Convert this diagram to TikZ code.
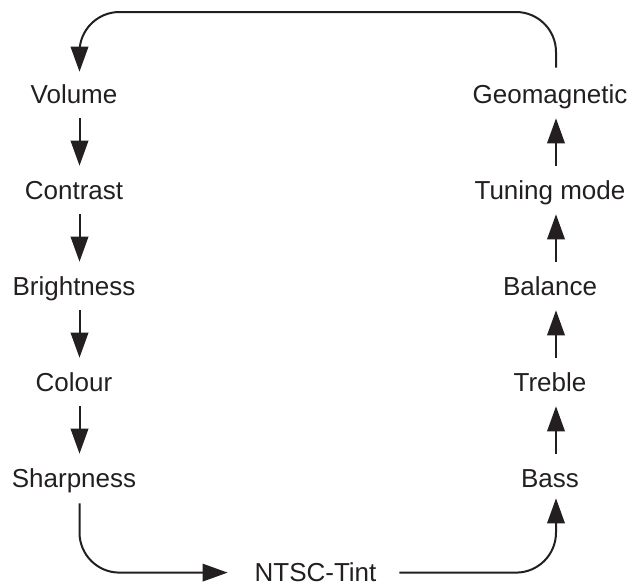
\documentclass[tikz,border=0pt]{standalone}
\usepackage{fontspec}
\setmainfont{Liberation Sans}
\usetikzlibrary{arrows.meta}
\definecolor{linecol}{RGB}{35,31,32}
\begin{document}
\begin{tikzpicture}[-{Triangle[length=12.5pt,width=8.75pt]},line width=1pt,draw=linecol,
  node distance=48pt,shorten <=7pt,shorten >=7pt,
  menu item/.style={inner sep=0pt,text height=9.3pt,text depth=0pt,text=linecol,font=\fontsize{13}{15}\selectfont}]

  \useasboundingbox (0,0) rectangle (316pt,-292.5pt);
  \coordinate (top) at (0,-6pt);

  \node[menu item] (vol) at (37pt,-47pt) {Volume};
  \node[menu item] (con) [below of=vol] {Contrast};
  \node[menu item] (bri) [below of=con] {Brightness};
  \node[menu item] (col) [below of=bri] {Colour};
  \node[menu item] (sha) [below of=col] {Sharpness};

  \node[menu item] (ntsc) at (157.75pt,-286.3pt) {NTSC-Tint};

  \node[menu item] (geo) at (275pt,-47pt) {Geomagnetic};
  \node[menu item] (tun) [below of=geo] {Tuning mode};
  \node[menu item] (bal) [below of=tun] {Balance};
  \node[menu item] (tre) [below of=bal] {Treble};
  \node[menu item] (bas) [below of=tre] {Bass};

  % arrows sit a little right of the text centres
  \foreach \a/\b in {vol/con,con/bri,bri/col,col/sha}
    \draw ([xshift=2.75pt]\a.south) -- ([xshift=2.75pt]\b.north);
  \foreach \a/\b in {bas/tre,tre/bal,bal/tun,tun/geo}
    \draw ([xshift=3pt]\a.north) -- ([xshift=3pt]\b.south);

  \draw[rounded corners=20pt,shorten <=7.5pt,shorten >=13pt] ([xshift=2.75pt]sha.south) |- (ntsc.west);
  \draw[rounded corners=20pt,shorten <=11pt,shorten >=5pt] (ntsc.east) -| ([xshift=3pt]bas.south);
  \draw[rounded corners=20pt,shorten <=8pt,shorten >=6pt]
    ([xshift=3pt]geo.north) -- ([xshift=3pt]geo.north |- top) -- ([xshift=2.75pt]vol.north |- top) -- ([xshift=2.75pt]vol.north);
\end{tikzpicture}
\end{document}
